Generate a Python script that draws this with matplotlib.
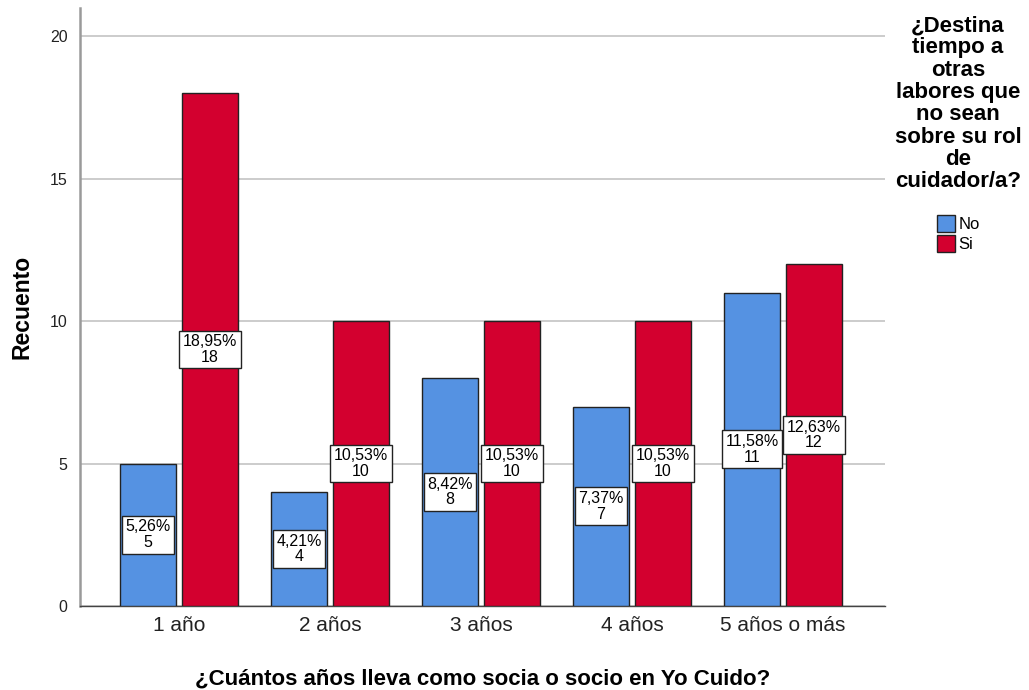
import numpy as np
import matplotlib
matplotlib.use("Agg")
import matplotlib.pyplot as plt
from matplotlib.patches import Patch

plt.rcParams['font.family'] = ['Liberation Sans', 'DejaVu Sans']

categories = ['1 año', '2 años', '3 años', '4 años', '5 años o más']
counts_no = [5, 4, 8, 7, 11]
counts_si = [18, 10, 10, 10, 12]
pct_no = ['5,26%', '4,21%', '8,42%', '7,37%', '11,58%']
pct_si = ['18,95%', '10,53%', '10,53%', '10,53%', '12,63%']
series_names = ['No', 'Si']
series_colors = ['#5592e2', '#d3002f']

fig = plt.figure(figsize=(10.29, 6.9), dpi=100)
ax = fig.add_axes([0.0777, 0.1217, 0.7823, 0.8673])

x = np.arange(len(categories))
w = 0.375
off = 0.205

for vals, pcts, dx, col in [(counts_no, pct_no, -off, series_colors[0]),
                            (counts_si, pct_si, off, series_colors[1])]:
    ax.bar(x + dx, vals, width=w, color=col, edgecolor='#222222',
           linewidth=1.0, zorder=3)
    # count and percent box in the middle of each bar
    for xi, v, p in zip(x, vals, pcts):
        ax.text(xi + dx, v / 2, f'{p}\n{v}', ha='center', va='center',
                fontsize=11.5, linespacing=1.05, zorder=4,
                bbox=dict(boxstyle='square,pad=0.22', fc='white',
                          ec='#222222', lw=1.0))

ax.set_xlim(-0.656, 4.675)
ax.set_ylim(0, 21)
ax.set_yticks([0, 5, 10, 15, 20])
ax.set_xticks(x)
ax.set_xticklabels(categories, fontsize=15, color='#222222')
ax.tick_params(axis='y', labelsize=11.5, length=0, pad=9, colors='#222222')
ax.tick_params(axis='x', length=0, pad=7)
ax.grid(axis='y', color='#c4c4c4', linewidth=1.2, zorder=0)

for s in ['top', 'right']:
    ax.spines[s].set_visible(False)
ax.spines['left'].set_color('#9a9a9a')
ax.spines['left'].set_linewidth(1.8)
ax.spines['bottom'].set_color('#444444')
ax.spines['bottom'].set_linewidth(1.0)

ax.set_ylabel('Recuento', fontsize=16.5, fontweight='bold', labelpad=12)
ax.set_xlabel('¿Cuántos años lleva como socia o socio en Yo Cuido?',
              fontsize=16, fontweight='bold', labelpad=24)

fig.text(0.931, 0.978, '¿Destina\ntiempo a\notras\nlabores que\nno sean\nsobre su rol\nde\ncuidador/a?',
         ha='center', va='top', fontsize=16, fontweight='bold',
         linespacing=1.08)

handles = [Patch(facecolor=c, edgecolor='#222222', label=n)
           for c, n in zip(series_colors, series_names)]
fig.legend(handles=handles, loc='upper left', bbox_to_anchor=(0.899, 0.705),
           frameon=False, fontsize=12, handlelength=1.1, handleheight=1.2,
           handletextpad=0.2, labelspacing=0.15, borderpad=0.2)

fig.savefig('out.png', dpi=100)
